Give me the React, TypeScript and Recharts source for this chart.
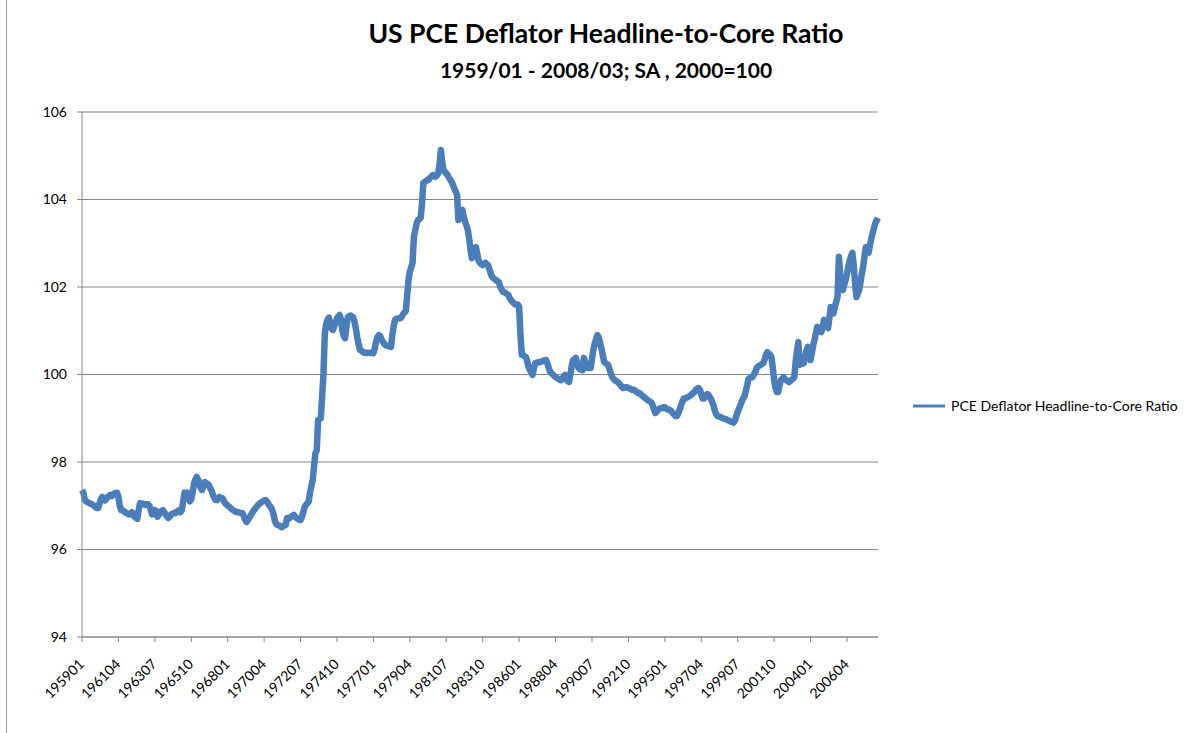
import { LineChart, Line, XAxis, YAxis, CartesianGrid } from "recharts";

const startYear = 1959;

// monthly ratio values, one row per year
const ratio1959to1968 = [
  97.36, 97.3, 97.15, 97.1, 97.08, 97.07, 97.05, 97.04, 97.02, 97.0, 96.97, 96.95,
  96.95, 97.05, 97.15, 97.2, 97.15, 97.12, 97.15, 97.2, 97.22, 97.25, 97.22, 97.25,
  97.28, 97.3, 97.3, 97.2, 97.0, 96.9, 96.9, 96.88, 96.85, 96.83, 96.82, 96.8,
  96.82, 96.85, 96.8, 96.75, 96.72, 96.7, 96.9, 97.06, 97.04, 97.05, 97.03, 97.02,
  97.04, 97.03, 97.0, 96.9, 96.8, 96.85, 96.9, 96.88, 96.75, 96.8, 96.85, 96.88,
  96.9, 96.85, 96.8, 96.76, 96.72, 96.75, 96.8, 96.82, 96.83, 96.83, 96.86, 96.88,
  96.9, 96.85, 96.9, 97.1, 97.3, 97.25, 97.3, 97.2, 97.1, 97.15, 97.3, 97.5,
  97.6, 97.66, 97.6, 97.5, 97.4, 97.36, 97.45, 97.54, 97.52, 97.5, 97.47, 97.4,
  97.35, 97.25, 97.18, 97.13, 97.13, 97.16, 97.2, 97.18, 97.18, 97.12, 97.06, 97.03,
  97.0, 96.98, 96.95, 96.92, 96.9, 96.88, 96.86, 96.86, 96.85, 96.84, 96.83, 96.83,
];

const ratio1969to1978 = [
  96.75, 96.68, 96.63, 96.68, 96.72, 96.78, 96.83, 96.88, 96.92, 96.96, 97.0, 97.03,
  97.06, 97.08, 97.1, 97.12, 97.13, 97.1, 97.05, 97.0, 96.97, 96.9, 96.8, 96.65,
  96.58, 96.56, 96.55, 96.53, 96.51, 96.53, 96.55, 96.56, 96.72, 96.7, 96.72, 96.75,
  96.77, 96.79, 96.75, 96.72, 96.7, 96.68, 96.67, 96.75, 96.85, 96.97, 97.02, 97.06,
  97.09, 97.3, 97.45, 97.59, 97.9, 98.2, 98.27, 98.96, 98.98, 99.0, 99.5, 100.03,
  100.95, 101.15, 101.25, 101.3, 101.15, 101.05, 101.02, 101.1, 101.2, 101.28, 101.33, 101.36,
  101.25, 101.0, 100.88, 100.83, 101.1, 101.31, 101.33, 101.35, 101.33, 101.31, 101.2, 101.05,
  100.85, 100.7, 100.56, 100.55, 100.52, 100.5, 100.5, 100.49, 100.5, 100.5, 100.49, 100.5,
  100.49, 100.6, 100.75, 100.85, 100.9, 100.88, 100.8, 100.75, 100.7, 100.67, 100.66, 100.65,
  100.64, 100.63, 100.9, 101.1, 101.25, 101.27, 101.28, 101.28, 101.29, 101.32, 101.38, 101.42,
];

const ratio1979to1988 = [
  101.45, 101.8, 102.16, 102.35, 102.45, 102.55, 103.14, 103.3, 103.45, 103.53, 103.55, 103.58,
  103.9, 104.38, 104.4, 104.42, 104.45, 104.45, 104.5, 104.52, 104.56, 104.55, 104.52, 104.55,
  104.6, 104.8, 105.13, 104.85, 104.67, 104.63, 104.6, 104.56, 104.5, 104.45, 104.4, 104.33,
  104.25, 104.18, 104.1, 103.53, 103.6, 103.7, 103.76, 103.6, 103.49, 103.4, 103.3, 103.1,
  102.85, 102.66, 102.75, 102.85, 102.91, 102.75, 102.6, 102.55, 102.52, 102.5, 102.52, 102.55,
  102.52, 102.5, 102.4, 102.3, 102.23, 102.2, 102.18, 102.15, 102.13, 102.11, 102.0, 101.95,
  101.89, 101.88, 101.86, 101.84, 101.82, 101.75, 101.7, 101.66, 101.63, 101.6, 101.6, 101.6,
  101.55, 100.9, 100.45, 100.45, 100.42, 100.4, 100.3, 100.17, 100.1, 100.05, 99.99, 100.15,
  100.26, 100.27, 100.28, 100.28, 100.29, 100.3, 100.32, 100.32, 100.33, 100.25, 100.15, 100.06,
  100.03, 100.0, 99.97, 99.94, 99.92, 99.9, 99.88, 99.87, 99.9, 99.95, 99.99, 99.9,
];

const ratio1989to1998 = [
  99.85, 99.83, 100.0, 100.2, 100.33, 100.35, 100.38, 100.28, 100.15, 100.12, 100.11, 100.1,
  100.38, 100.28, 100.2, 100.15, 100.15, 100.15, 100.35, 100.56, 100.7, 100.8, 100.9, 100.85,
  100.72, 100.6, 100.45, 100.29, 100.26, 100.24, 100.22, 100.12, 100.02, 99.94, 99.9, 99.87,
  99.85, 99.83, 99.8, 99.76, 99.72, 99.69, 99.7, 99.71, 99.71, 99.69, 99.68, 99.66,
  99.65, 99.65, 99.63, 99.6, 99.58, 99.58, 99.55, 99.52, 99.5, 99.47, 99.45, 99.42,
  99.4, 99.38, 99.36, 99.3, 99.2, 99.12, 99.15, 99.2, 99.22, 99.23, 99.23, 99.25,
  99.25, 99.22, 99.2, 99.2, 99.18, 99.15, 99.12, 99.08, 99.05, 99.05, 99.12, 99.2,
  99.3, 99.38, 99.45, 99.45, 99.47, 99.48, 99.5, 99.52, 99.55, 99.58, 99.6, 99.65,
  99.68, 99.69, 99.65, 99.55, 99.45, 99.45, 99.5, 99.55, 99.55, 99.5, 99.45, 99.38,
  99.3, 99.18, 99.1, 99.05, 99.04, 99.03, 99.02, 99.0, 98.99, 98.98, 98.97, 98.95,
];

const ratio1999to2008 = [
  98.94, 98.92, 98.91, 98.9, 98.95, 99.05, 99.15, 99.22, 99.3, 99.38, 99.45, 99.5,
  99.62, 99.75, 99.9, 99.92, 99.93, 99.94, 100.0, 100.05, 100.15, 100.18, 100.2, 100.22,
  100.24, 100.26, 100.35, 100.45, 100.51, 100.48, 100.45, 100.4, 100.15, 99.87, 99.7, 99.6,
  99.6, 99.75, 99.87, 99.9, 99.94, 99.9, 99.87, 99.85, 99.83, 99.85, 99.88, 99.9,
  99.94, 100.3, 100.55, 100.74, 100.22, 100.24, 100.25, 100.26, 100.4, 100.55, 100.63, 100.5,
  100.33, 100.5, 100.67, 100.8, 100.95, 101.09, 101.05, 101.0, 100.97, 101.1, 101.25, 101.18,
  101.1, 101.06, 101.3, 101.54, 101.45, 101.4, 101.55, 101.65, 101.77, 102.69, 102.3, 102.0,
  101.93, 102.05, 102.16, 102.3, 102.46, 102.6, 102.7, 102.78, 102.5, 102.1, 101.77, 101.85,
  101.93, 102.1, 102.3, 102.46, 102.7, 102.91, 102.85, 102.78, 102.95, 103.1, 103.23, 103.35,
  103.46, 103.52, 103.58,
];

const ratioValues = [
  ...ratio1959to1968,
  ...ratio1969to1978,
  ...ratio1979to1988,
  ...ratio1989to1998,
  ...ratio1999to2008,
];

const tickLabels = [
  "195901", "196104", "196307", "196510", "196801", "197004", "197207", "197410",
  "197701", "197904", "198107", "198310", "198601", "198804", "199007", "199210",
  "199501", "199704", "199907", "200110", "200401", "200604",
];

const yTicks = [94, 96, 98, 100, 102, 104, 106];

const data = ratioValues.map((v, i) => ({
  month: `${startYear + Math.floor(i / 12)}${String((i % 12) + 1).padStart(2, "0")}`,
  ratio: v,
}));

const FONT = "Lato, 'Open Sans', sans-serif";
const LINE_COLOR = "#4a7ebb";
const GRID = "#868686";

const XTick = (props: any) => {
  const { x, y, payload } = props;
  return (
    <g transform={`translate(${x + 3},${y + 23})`}>
      <text
        x={0}
        y={0}
        textAnchor="end"
        transform="rotate(-45)"
        fontSize={14}
        fontFamily={FONT}
        fill="#000"
      >
        {payload.value}
      </text>
    </g>
  );
};

export default function App() {
  return (
    <div
      style={{
        position: "absolute",
        left: 0,
        top: 0,
        width: 1204,
        height: 733,
        background: "#fff",
        fontFamily: FONT,
      }}
    >
      <div
        style={{
          position: "absolute",
          left: 6,
          top: 0,
          width: 1,
          height: 733,
          background: "#9a9a9a",
        }}
      />
      <div
        style={{
          position: "absolute",
          left: 0,
          width: 1212,
          top: 17,
          textAlign: "center",
          fontWeight: 700,
          fontSize: 26.5,
          color: "#000",
        }}
      >
        US PCE Deflator Headline-to-Core Ratio
      </div>
      <div
        style={{
          position: "absolute",
          left: 0,
          width: 1212,
          top: 57,
          textAlign: "center",
          fontWeight: 700,
          fontSize: 21,
          color: "#000",
        }}
      >
        1959/01 - 2008/03; SA , 2000=100
      </div>

      <LineChart
        width={1204}
        height={733}
        data={data}
        margin={{ top: 112, right: 326, bottom: 0, left: 0 }}
      >
        <CartesianGrid vertical={false} stroke={GRID} strokeWidth={1} />
        <XAxis
          dataKey="month"
          ticks={tickLabels}
          interval={0}
          height={96}
          tickSize={5}
          tickMargin={0}
          stroke={GRID}
          tick={<XTick />}
        />
        <YAxis
          domain={[94, 106]}
          ticks={yTicks}
          width={82}
          tickSize={5}
          tickMargin={10}
          stroke={GRID}
          allowDataOverflow
          tick={{ fontSize: 14, fontFamily: FONT, fill: "#000" }}
        />
        <Line
          type="linear"
          dataKey="ratio"
          stroke={LINE_COLOR}
          strokeWidth={6.5}
          strokeLinejoin="round"
          dot={false}
          isAnimationActive={false}
        />
      </LineChart>

      <div
        style={{
          position: "absolute",
          left: 913,
          top: 397,
          display: "flex",
          alignItems: "center",
          fontSize: 14,
          color: "#000",
        }}
      >
        <svg width={32} height={6} style={{ marginRight: 6 }}>
          <line x1={0} y1={3} x2={32} y2={3} stroke={LINE_COLOR} strokeWidth={3} />
        </svg>
        <span>PCE Deflator Headline-to-Core Ratio</span>
      </div>
    </div>
  );
}
